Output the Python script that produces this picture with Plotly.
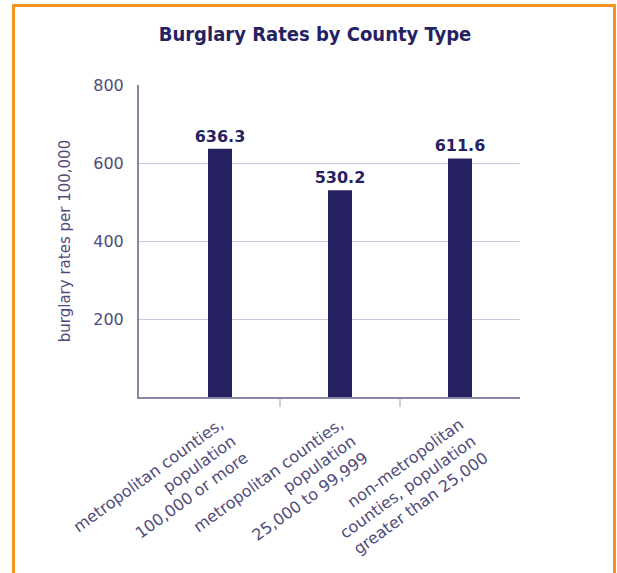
import plotly.graph_objects as go

categories = [
    "metropolitan counties,<br>population<br>100,000 or more",
    "metropolitan counties,<br>population<br>25,000 to 99,999",
    "non-metropolitan<br>counties, population<br>greater than 25,000",
]
rates = [636.3, 530.2, 611.6]
y_ticks = [200, 400, 600, 800]

navy = "#262262"
label_col = "#4f4b7a"
pos = list(range(len(categories)))

fig = go.Figure()
fig.add_trace(go.Bar(
    x=pos, y=rates, width=0.2,
    marker=dict(color=navy, line=dict(width=0)),
    text=[f"<b>{v:.1f}</b>" for v in rates], textposition="outside",
    constraintext="none",
    textfont=dict(family="DejaVu Sans", size=16, color=navy),
    cliponaxis=False, hoverinfo="skip",
))

W, H = 617, 573
L, R, T, B = 139, 520, 85, 397
pw, ph = R - L, B - T

def px(x):
    return (x - L) / pw

def py(y):
    return (B - y) / ph

fig.add_shape(type="rect", xref="paper", yref="paper",
              x0=px(13.5), x1=px(614.5), y0=py(5.5), y1=py(600),
              line=dict(color="#f7941d", width=3), fillcolor="rgba(0,0,0,0)")

fig.update_layout(
    width=W, height=H,
    margin=dict(l=L, r=W - R, t=T, b=H - B, pad=0, autoexpand=False),
    paper_bgcolor="white", plot_bgcolor="white",
    showlegend=False,
    title=dict(text="<b>Burglary Rates by County Type</b>",
               font=dict(family="Liberation Sans Narrow, DejaVu Sans Condensed, Arial Narrow, sans-serif",
                         size=20, color=navy),
               x=315 / W, xanchor="center", y=1 - 34 / H, yanchor="middle"),
    xaxis=dict(
        range=[-0.675, 2.5], tickmode="array", tickvals=pos, ticktext=categories,
        tickangle=-36, ticks="", showgrid=False, zeroline=False,
        showline=True, linecolor="#8a86a8", linewidth=2,
        ticklabelstandoff=10, automargin=False,
        tickfont=dict(family="DejaVu Sans", size=16, color=label_col),
        minor=dict(tickmode="array", tickvals=[0.5, 1.5], ticks="outside",
                   ticklen=8, tickwidth=2, tickcolor="#d4d4d8", showgrid=False),
    ),
    yaxis=dict(
        range=[0, 800], tickmode="array", tickvals=y_ticks,
        showgrid=True, gridcolor="#cdcbdf", gridwidth=1, zeroline=False,
        showline=True, linecolor="#8a86a8", linewidth=2, ticks="",
        ticklabelstandoff=10, automargin=False,
        tickfont=dict(family="DejaVu Sans", size=16, color=label_col),
        title=dict(text="burglary rates per 100,000", standoff=19,
                   font=dict(family="DejaVu Sans", size=15, color=label_col)),
    ),
)

fig.write_html("out.html", config={"displayModeBar": False},
               post_script="document.body.style.margin='0';document.body.style.overflow='hidden';")
